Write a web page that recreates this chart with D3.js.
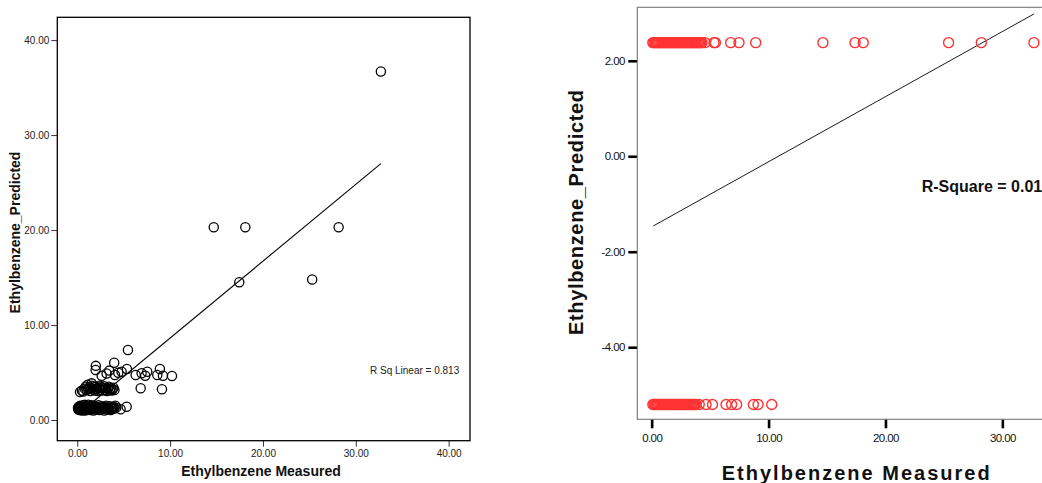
<!DOCTYPE html>
<html>
<head>
<meta charset="utf-8">
<script src="https://cdn.jsdelivr.net/npm/d3@7"></script>
<style>
  body { margin: 0; background: #fff; }
  svg { display: block; font-family: Arial, "Liberation Sans", sans-serif; }
</style>
</head>
<body>
<div id="viz"></div>
<script>
// ---- left panel: measured vs predicted ----
var measured = [
  0.08, 0.12, 0.15, 0.2, 0.25, 0.3, 0.35, 0.4, 0.45, 0.5, 0.55, 0.6, 0.65, 0.7, 0.75, 0.8, 0.85, 0.9, 0.95, 1.0,
  1.1, 1.15, 1.2, 1.3, 1.35, 1.4, 1.5, 1.55, 1.6, 1.7, 1.75, 1.8, 1.9, 2.0, 2.1, 2.2, 2.3, 2.4, 2.5, 2.6,
  2.7, 2.8, 2.9, 3.0, 3.1, 3.2, 3.3, 3.4, 3.5, 3.6, 3.7, 3.8, 3.9, 4.0, 4.1, 4.2, 4.67, 5.32,
  0.1, 0.3, 0.5, 0.7, 0.9, 1.05, 1.25, 1.45, 1.65, 1.85, 2.05, 2.25, 2.45, 2.65, 2.85, 3.05, 3.25, 3.45, 3.65, 3.85,
  0.3, 0.5, 0.65, 0.8, 0.9, 1.0, 1.1, 1.2, 1.3, 1.4, 1.5, 1.55, 1.6, 1.7, 1.8, 1.9, 2.0, 2.1, 2.2, 2.3,
  2.4, 2.5, 2.6, 2.7, 2.8, 2.9, 3.0, 3.1, 3.2, 3.3, 3.4, 3.5, 3.6, 3.7, 3.8, 3.9, 4.0,
  2.0, 1.98, 2.63, 3.16, 3.45, 3.98, 4.06, 4.42, 4.78, 5.35, 5.46, 6.29, 6.93, 7.32, 7.54, 8.9, 8.62, 9.23, 10.2,
  6.83, 9.12,
  32.7, 14.7, 18.1, 28.15, 17.45, 25.3
];
var predicted = [
  1.25, 1.1, 1.4, 1.2, 1.05, 1.5, 1.3, 1.15, 1.45, 1.0, 1.35, 1.2, 1.55, 1.1, 1.3, 1.6, 1.0, 1.4, 1.2, 1.5,
  1.1, 1.35, 1.6, 1.2, 1.45, 1.05, 1.3, 1.55, 1.15, 1.4, 1.0, 1.25, 1.5, 1.1, 1.35, 1.2, 1.55, 1.05, 1.3, 1.45,
  1.15, 1.35, 1.0, 1.25, 1.5, 1.1, 1.3, 1.2, 1.45, 1.05, 1.3, 1.15, 1.4, 1.2, 1.5, 1.3, 1.13, 1.4,
  1.3, 1.2, 1.35, 1.25, 1.3, 1.2, 1.3, 1.25, 1.35, 1.2, 1.3, 1.25, 1.3, 1.2, 1.35, 1.25, 1.3, 1.2, 1.3, 1.25,
  2.95, 3.1, 3.0, 3.3, 3.5, 3.15, 3.7, 3.25, 3.45, 3.05, 3.35, 3.86, 3.6, 3.2, 3.45, 3.1, 3.5, 3.3, 3.05, 3.4,
  3.6, 3.2, 3.45, 3.1, 3.35, 3.55, 3.15, 3.4, 3.05, 3.3, 3.5, 3.2, 3.35, 3.1, 3.25, 3.4, 3.15,
  5.7, 5.26, 4.66, 4.9, 5.2, 6.03, 4.74, 4.98, 5.08, 5.37, 7.37, 4.74, 4.92, 4.66, 5.08, 5.37, 4.74, 4.66, 4.63,
  3.34, 3.23,
  36.7, 20.3, 20.3, 20.3, 14.5, 14.8
];
var leftFit = { x: [0.05, 32.7], y: [0.58, 27.0] };
var leftTicks = [0, 10, 20, 30, 40];

// ---- right panel: residual groups ----
var upperX = [
  0.1, 0.2, 0.3, 0.4, 0.5, 0.6, 0.7, 0.8, 0.9, 1.0, 1.1, 1.2, 1.3, 1.4, 1.5, 1.6, 1.7, 1.8, 1.9, 2.0,
  2.1, 2.2, 2.3, 2.4, 2.5, 2.6, 2.7, 2.8, 2.9, 3.0, 3.1, 3.2, 3.3, 3.4, 3.5, 3.6, 3.7, 3.8, 3.9, 4.0,
  4.1, 4.2, 4.3, 4.56, 5.33, 5.45, 6.76, 7.47, 8.9, 14.65, 17.4, 18.1, 25.4, 28.2, 32.7
];
var upperY = 2.38;
var lowerX = [
  0.1, 0.2, 0.3, 0.4, 0.5, 0.6, 0.7, 0.8, 0.9, 1.0, 1.1, 1.2, 1.3, 1.4, 1.5, 1.6, 1.7, 1.8, 1.9, 2.0,
  2.1, 2.2, 2.3, 2.4, 2.5, 2.6, 2.7, 2.8, 2.9, 3.0, 3.1, 3.2, 3.3, 3.4, 3.5, 3.6, 3.7, 3.8,
  4.07, 4.65, 5.2, 6.36, 6.84, 7.27, 8.7, 9.1, 10.27
];
var lowerY = -5.2;
var rightFit = { x: [0.14, 32.7], y: [-1.46, 2.98] };
var rightXTicks = [0, 10, 20, 30];
var rightYTicks = [2, 0, -2, -4];

var width = 1042, height = 483;
var fmt = d3.formatLocale({
  decimal: ".", thousands: ",", grouping: [3], currency: ["", ""], minus: "-"
}).format(".2f");

var svg = d3.select("#viz").append("svg")
  .attr("width", width)
  .attr("height", height);

// ================= left chart =================
var lx = d3.scaleLinear().domain([-2.15, 42.3]).range([57.3, 470]);
var ly = d3.scaleLinear().domain([-2.18, 42.4]).range([440.7, 17.3]);

var left = svg.append("g");

left.append("g")
  .attr("transform", "translate(57.3,0)")
  .call(d3.axisLeft(ly).tickValues(leftTicks).tickFormat(fmt).tickSize(6).tickPadding(2))
  .call(function(g) {
    g.select(".domain").remove();
    g.selectAll("line").attr("stroke", "#333");
    g.selectAll("text").attr("font-size", 10).attr("fill", "#222").attr("font-family", null);
  });

left.append("g")
  .attr("transform", "translate(0,440.7)")
  .call(d3.axisBottom(lx).tickValues(leftTicks).tickFormat(fmt).tickSize(6).tickPadding(3))
  .call(function(g) {
    g.select(".domain").remove();
    g.selectAll("line").attr("stroke", "#333");
    g.selectAll("text").attr("font-size", 10).attr("fill", "#222").attr("font-family", null);
  });

left.append("rect")
  .attr("x", lx.range()[0]).attr("y", ly.range()[1])
  .attr("width", lx.range()[1] - lx.range()[0])
  .attr("height", ly.range()[0] - ly.range()[1])
  .attr("fill", "none").attr("stroke", "#000").attr("stroke-width", 1.3);

left.append("line")
  .attr("x1", lx(leftFit.x[0])).attr("y1", ly(leftFit.y[0]))
  .attr("x2", lx(leftFit.x[1])).attr("y2", ly(leftFit.y[1]))
  .attr("stroke", "#000").attr("stroke-width", 1.1);

left.selectAll("circle.pt")
  .data(d3.range(measured.length))
  .enter().append("circle")
    .attr("class", "pt")
    .attr("cx", function(i) { return lx(measured[i]); })
    .attr("cy", function(i) { return ly(predicted[i]); })
    .attr("r", 4.6)
    .attr("fill", "none")
    .attr("stroke", "#000")
    .attr("stroke-width", 1.3);

left.append("text")
  .attr("x", 370).attr("y", 374)
  .attr("font-size", 10).attr("fill", "#222")
  .text("R Sq Linear = 0.813");

left.append("text")
  .attr("x", 261).attr("y", 476)
  .attr("text-anchor", "middle")
  .attr("font-size", 14).attr("font-weight", "bold").attr("fill", "#111")
  .text("Ethylbenzene Measured");

left.append("text")
  .attr("transform", "translate(20,232.5) rotate(-90)")
  .attr("text-anchor", "middle")
  .attr("font-size", 14).attr("font-weight", "bold").attr("fill", "#111")
  .text("Ethylbenzene_Predicted");

// ================= right chart =================
var rx = d3.scaleLinear().domain([-1.23, 35]).range([637.3, 1060.8]);
var ry = d3.scaleLinear().domain([-5.51, 3.12]).range([419.3, 7.3]);

var right = svg.append("g");

right.append("g")
  .attr("transform", "translate(637.3,0)")
  .call(d3.axisLeft(ry).tickValues(rightYTicks).tickFormat(fmt).tickSize(9).tickPadding(3.5))
  .call(function(g) {
    g.select(".domain").remove();
    g.selectAll("line").attr("stroke", "#000").attr("stroke-width", 2.6);
    g.selectAll("text").attr("font-size", 11.5).attr("fill", "#111")
      .attr("font-family", null).attr("letter-spacing", -0.6);
  });

right.append("g")
  .attr("transform", "translate(0,419.3)")
  .call(d3.axisBottom(rx).tickValues(rightXTicks).tickFormat(fmt).tickSize(9).tickPadding(6))
  .call(function(g) {
    g.select(".domain").remove();
    g.selectAll("line").attr("stroke", "#000").attr("stroke-width", 2.6);
    g.selectAll("text").attr("font-size", 11.5).attr("fill", "#111")
      .attr("font-family", null).attr("letter-spacing", -0.6);
  });

right.append("rect")
  .attr("x", rx.range()[0]).attr("y", ry.range()[1])
  .attr("width", rx.range()[1] - rx.range()[0])
  .attr("height", ry.range()[0] - ry.range()[1])
  .attr("fill", "none").attr("stroke", "#777").attr("stroke-width", 1.1);

right.append("line")
  .attr("x1", rx(rightFit.x[0])).attr("y1", ry(rightFit.y[0]))
  .attr("x2", rx(rightFit.x[1])).attr("y2", ry(rightFit.y[1]))
  .attr("stroke", "#000").attr("stroke-width", 0.9);

right.selectAll("circle.up")
  .data(upperX)
  .enter().append("circle")
    .attr("class", "up")
    .attr("cx", function(d) { return rx(d); })
    .attr("cy", ry(upperY))
    .attr("r", 5)
    .attr("fill", "none")
    .attr("stroke", "#f33")
    .attr("stroke-width", 1.4);

right.selectAll("circle.lo")
  .data(lowerX)
  .enter().append("circle")
    .attr("class", "lo")
    .attr("cx", function(d) { return rx(d); })
    .attr("cy", ry(lowerY))
    .attr("r", 5)
    .attr("fill", "none")
    .attr("stroke", "#f33")
    .attr("stroke-width", 1.4);

right.append("text")
  .attr("x", 921.7).attr("y", 192)
  .attr("font-size", 16).attr("font-weight", "bold").attr("fill", "#111")
  .text("R-Square = 0.01");

right.append("text")
  .attr("x", 721.7).attr("y", 480)
  .attr("textLength", 268).attr("lengthAdjust", "spacing")
  .attr("font-size", 20).attr("font-weight", "bold").attr("fill", "#111")
  .text("Ethylbenzene Measured");

right.append("text")
  .attr("transform", "translate(583,335) rotate(-90)")
  .attr("textLength", 245).attr("lengthAdjust", "spacing")
  .attr("font-size", 20).attr("font-weight", "bold").attr("fill", "#111")
  .text("Ethylbenzene_Predicted");
</script>
</body>
</html>
